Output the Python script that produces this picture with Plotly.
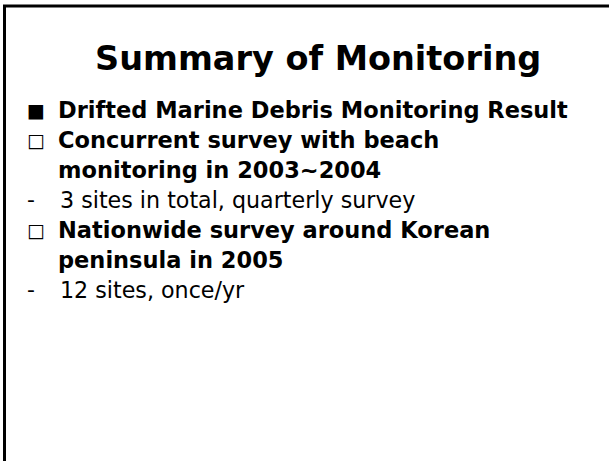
import plotly.graph_objects as go

W, H = 609, 461

title = "Summary of Monitoring"

# one entry per text line on the slide
marks = ["■", "□", "", "-", "□", "", "-"]
texts = [
    "Drifted Marine Debris Monitoring Result",
    "Concurrent survey with beach",
    "monitoring in 2003~2004",
    "3 sites in total, quarterly survey",
    "Nationwide survey around Korean",
    "peninsula in 2005",
    "12 sites, once/yr",
]
bold = [True, True, True, False, True, True, False]

FONT = "DejaVu Sans"


def px_x(x):
    return x / W


def px_y(y):
    return 1 - y / H


fig = go.Figure()
fig.update_layout(
    width=W, height=H,
    margin=dict(l=0, r=0, t=0, b=0),
    paper_bgcolor="white", plot_bgcolor="white",
    xaxis=dict(visible=False, range=[0, 1]),
    yaxis=dict(visible=False, range=[0, 1]),
    showlegend=False,
)

# slide frame (right and bottom edges fall outside the picture)
fig.add_shape(type="rect", xref="paper", yref="paper",
              x0=px_x(4.5), x1=px_x(W + 20), y0=px_y(H + 20), y1=px_y(6),
              line=dict(color="black", width=3), fillcolor="rgba(0,0,0,0)")

annos = []
annos.append(dict(text="<b>" + title + "</b>", x=px_x(318), y=px_y(59),
                  xanchor="center", yanchor="middle",
                  font=dict(family=FONT, size=33.5, color="black")))

base0, step = 118, 30
for i, (m, t, b) in enumerate(zip(marks, texts, bold)):
    base = base0 + i * step
    size = 22.5 if b else 22.2
    ymid = base - 0.36 * 22.5
    if m in ("■", "□"):
        annos.append(dict(text=m, x=px_x(25), y=px_y(ymid), xanchor="left",
                          yanchor="middle",
                          font=dict(family=FONT, size=19, color="black")))
    elif m == "-":
        annos.append(dict(text=m, x=px_x(25), y=px_y(ymid), xanchor="left",
                          yanchor="middle",
                          font=dict(family=FONT, size=22, color="black")))
    tx = 56 if b else 58
    annos.append(dict(text=("<b>%s</b>" % t) if b else t, x=px_x(tx),
                      y=px_y(ymid), xanchor="left", yanchor="middle",
                      font=dict(family=FONT, size=size, color="black")))

for a in annos:
    a.update(xref="paper", yref="paper", showarrow=False)
fig.update_layout(annotations=annos)

fig.write_html("out.html", config={"displayModeBar": False},
               post_script="document.body.style.margin='0';"
                           "document.body.style.overflow='hidden';")
